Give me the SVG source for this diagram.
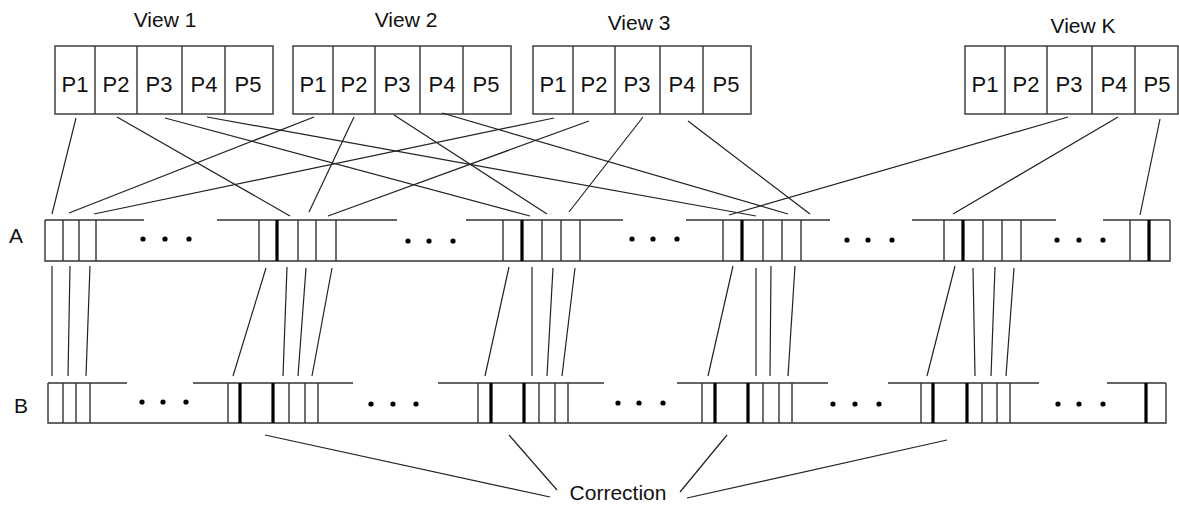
<svg xmlns="http://www.w3.org/2000/svg" width="1179" height="511" viewBox="0 0 1179 511">
  <style>
    .txt { font-family: "Liberation Sans", Arial, sans-serif; font-size: 21px; fill: #111; }
    .cell { font-size: 22px; }
    .mid { text-anchor: middle; }
    .box { fill: #fff; stroke: #333; stroke-width: 1.4; }
    .div { stroke: #333; stroke-width: 1.4; fill: none; }
    .bar { stroke: #333; stroke-width: 1.4; fill: none; }
    .thick { stroke: #000; stroke-width: 3.2; fill: none; }
    .conn line { stroke: #222; stroke-width: 1.2; }
    .dot { fill: #000; }
  </style>

  <rect width="1179" height="511" fill="#fff"/>

  <!-- view blocks: five cells each -->
  <g id="view1">
    <text class="txt mid" x="165" y="27">View 1</text>
    <rect class="box" x="55" y="46" width="218" height="68"/>
    <path class="div" d="M95 46V114M137 46V114M182 46V114M225 46V114"/>
    <text class="txt cell mid" x="75" y="92">P1</text>
    <text class="txt cell mid" x="116" y="92">P2</text>
    <text class="txt cell mid" x="159" y="92">P3</text>
    <text class="txt cell mid" x="204" y="92">P4</text>
    <text class="txt cell mid" x="248" y="92">P5</text>
  </g>
  <g id="view2">
    <text class="txt mid" x="406" y="27">View 2</text>
    <rect class="box" x="293" y="46" width="218" height="68"/>
    <path class="div" d="M333 46V114M375 46V114M420 46V114M463 46V114"/>
    <text class="txt cell mid" x="313" y="92">P1</text>
    <text class="txt cell mid" x="354" y="92">P2</text>
    <text class="txt cell mid" x="397" y="92">P3</text>
    <text class="txt cell mid" x="442" y="92">P4</text>
    <text class="txt cell mid" x="486" y="92">P5</text>
  </g>
  <g id="view3">
    <text class="txt mid" x="639" y="30">View 3</text>
    <rect class="box" x="533" y="46" width="218" height="68"/>
    <path class="div" d="M573 46V114M615 46V114M660 46V114M703 46V114"/>
    <text class="txt cell mid" x="553" y="92">P1</text>
    <text class="txt cell mid" x="594" y="92">P2</text>
    <text class="txt cell mid" x="637" y="92">P3</text>
    <text class="txt cell mid" x="682" y="92">P4</text>
    <text class="txt cell mid" x="726" y="92">P5</text>
  </g>
  <g id="viewK">
    <text class="txt mid" x="1083" y="33">View K</text>
    <rect class="box" x="965" y="46" width="213" height="68"/>
    <path class="div" d="M1005 46V114M1047 46V114M1092 46V114M1135 46V114"/>
    <text class="txt cell mid" x="985" y="92">P1</text>
    <text class="txt cell mid" x="1026" y="92">P2</text>
    <text class="txt cell mid" x="1069" y="92">P3</text>
    <text class="txt cell mid" x="1114" y="92">P4</text>
    <text class="txt cell mid" x="1157" y="92">P5</text>
  </g>

  <!-- row A -->
  <g id="rowA">
    <text class="txt" x="9" y="243">A</text>
    <path class="bar" d="M45 220V261H1170V220M45 220H144M217 220H397M466 220H623M686 220H830M912 220H1056M1103 220H1170"/>
    <path class="div" d="M63 220V261M79 220V261M96 220V261
      M259 220V261M298 220V261M316 220V261M336 220V261
      M503 220V261M542 220V261M561 220V261M580 220V261
      M723 220V261M763 220V261M782 220V261M801 220V261
      M944 220V261M983 220V261M1002 220V261M1021 220V261
      M1130 220V261"/>
    <path class="thick" d="M277 220V261M522 220V261M742 220V261M963 220V261M1149 220V261"/>
    <circle class="dot" cx="143" cy="239" r="2.6"/>
    <circle class="dot" cx="165" cy="239" r="2.6"/>
    <circle class="dot" cx="189" cy="239" r="2.6"/>
    <circle class="dot" cx="408" cy="241" r="2.6"/>
    <circle class="dot" cx="429" cy="241" r="2.6"/>
    <circle class="dot" cx="453" cy="241" r="2.6"/>
    <circle class="dot" cx="632" cy="239" r="2.6"/>
    <circle class="dot" cx="653" cy="239" r="2.6"/>
    <circle class="dot" cx="677" cy="239" r="2.6"/>
    <circle class="dot" cx="847" cy="240" r="2.6"/>
    <circle class="dot" cx="868" cy="240" r="2.6"/>
    <circle class="dot" cx="892" cy="240" r="2.6"/>
    <circle class="dot" cx="1057" cy="240" r="2.6"/>
    <circle class="dot" cx="1079" cy="240" r="2.6"/>
    <circle class="dot" cx="1103" cy="240" r="2.6"/>
  </g>

  <!-- row B -->
  <g id="rowB">
    <text class="txt" x="14" y="413">B</text>
    <path class="bar" d="M48 383V423H1166V383M48 383H127M193 383H353M438 383H604M677 383H828M888 383H1039M1107 383H1166"/>
    <path class="div" d="M63 383V423M76 383V423M90 383V423
      M228 383V423M289 383V423M305 383V423M318 383V423
      M478 383V423M539 383V423M555 383V423M568 383V423
      M702 383V423M763 383V423M779 383V423M792 383V423
      M921 383V423M982 383V423M997 383V423M1010 383V423"/>
    <path class="thick" d="M240 383V423M273 383V423M491 383V423M524 383V423M715 383V423M748 383V423M933 383V423M967 383V423M1146 383V423"/>
    <circle class="dot" cx="142" cy="402" r="2.6"/>
    <circle class="dot" cx="163" cy="402" r="2.6"/>
    <circle class="dot" cx="186" cy="402" r="2.6"/>
    <circle class="dot" cx="371" cy="404" r="2.6"/>
    <circle class="dot" cx="393" cy="404" r="2.6"/>
    <circle class="dot" cx="416" cy="404" r="2.6"/>
    <circle class="dot" cx="618" cy="403" r="2.6"/>
    <circle class="dot" cx="639" cy="403" r="2.6"/>
    <circle class="dot" cx="663" cy="403" r="2.6"/>
    <circle class="dot" cx="833" cy="404" r="2.6"/>
    <circle class="dot" cx="855" cy="404" r="2.6"/>
    <circle class="dot" cx="879" cy="404" r="2.6"/>
    <circle class="dot" cx="1058" cy="404" r="2.6"/>
    <circle class="dot" cx="1079" cy="404" r="2.6"/>
    <circle class="dot" cx="1103" cy="404" r="2.6"/>
  </g>

  <g id="correction">
    <text class="txt mid" x="618" y="500">Correction</text>
  </g>

  <!-- connectors -->
  <g id="connectors" class="conn">
    <!-- views to row A -->
    <line x1="76" y1="118" x2="52" y2="214"/>
    <line x1="117" y1="117" x2="290" y2="216"/>
    <line x1="165" y1="118" x2="530" y2="216"/>
    <line x1="207" y1="117" x2="756" y2="216"/>
    <line x1="314" y1="117" x2="69" y2="213"/>
    <line x1="354" y1="117" x2="309" y2="212"/>
    <line x1="394" y1="115" x2="547" y2="214"/>
    <line x1="442" y1="113" x2="788" y2="214"/>
    <line x1="554" y1="118" x2="94" y2="214"/>
    <line x1="589" y1="121" x2="328" y2="216"/>
    <line x1="643" y1="117" x2="569" y2="212"/>
    <line x1="688" y1="121" x2="810" y2="214"/>
    <line x1="1068" y1="117" x2="729" y2="215"/>
    <line x1="1118" y1="117" x2="953" y2="214"/>
    <line x1="1160" y1="119" x2="1140" y2="215"/>
    <!-- row A to row B -->
    <line x1="52" y1="266" x2="52" y2="376"/>
    <line x1="70" y1="266" x2="68" y2="376"/>
    <line x1="90" y1="266" x2="86" y2="376"/>
    <line x1="266" y1="268" x2="233" y2="376"/>
    <line x1="287" y1="267" x2="283" y2="376"/>
    <line x1="306" y1="268" x2="298" y2="376"/>
    <line x1="332" y1="268" x2="312" y2="376"/>
    <line x1="509" y1="267" x2="485" y2="376"/>
    <line x1="532" y1="267" x2="532" y2="376"/>
    <line x1="553" y1="268" x2="547" y2="376"/>
    <line x1="575" y1="268" x2="562" y2="376"/>
    <line x1="733" y1="266" x2="708" y2="376"/>
    <line x1="756" y1="268" x2="756" y2="376"/>
    <line x1="771" y1="266" x2="770" y2="376"/>
    <line x1="795" y1="266" x2="788" y2="376"/>
    <line x1="955" y1="266" x2="927" y2="376"/>
    <line x1="973" y1="268" x2="975" y2="376"/>
    <line x1="995" y1="267" x2="991" y2="376"/>
    <line x1="1014" y1="268" x2="1006" y2="376"/>
    <!-- row B to the correction label -->
    <line x1="265" y1="435" x2="550" y2="497"/>
    <line x1="509" y1="435" x2="557" y2="490"/>
    <line x1="727" y1="435" x2="680" y2="492"/>
    <line x1="947" y1="440" x2="687" y2="498"/>
  </g>
</svg>
